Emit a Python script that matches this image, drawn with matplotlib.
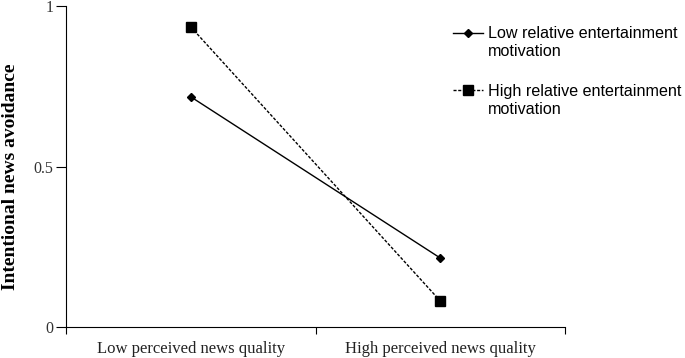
import matplotlib
matplotlib.use('Agg')
import matplotlib.pyplot as plt
from matplotlib.lines import Line2D

categories = ['Low perceived news quality', 'High perceived news quality']
low_motivation = [0.718, 0.215]
high_motivation = [0.936, 0.081]
series_labels = [['Low relative entertainment', 'motivation'],
                 ['High relative entertainment', 'motivation']]

fig = plt.figure(figsize=(6.85, 3.58), dpi=100)
ax = fig.add_axes([0.0964, 0.0866, 0.7286, 0.8954])

x = [0.5, 1.5]
l1, = ax.plot(x, low_motivation, color='black', lw=1, marker='D', ms=4.5)
l2, = ax.plot(x, high_motivation, color='black', lw=1, ls=(0, (2.2, 1.2)),
              marker='s', ms=6.5)

ax.set_xlim(0, 2)
ax.set_ylim(0, 1)
ax.set_xticks([0, 1, 2])
ax.set_xticklabels([])
ax.set_xticks(x, minor=True)
ax.set_xticklabels(categories, minor=True, fontsize=12,
                   family='Liberation Serif', color='#222222')
ax.tick_params(axis='x', which='minor', length=0, pad=10)
ax.tick_params(axis='x', which='major', length=5, direction='out')
ax.set_yticks([0, 0.5, 1])
ax.set_yticklabels(['0', '0.5', '1'], fontsize=11.5, family='Liberation Serif',
                   color='#333333')
ax.tick_params(axis='y', length=7, pad=2)
ax.spines['top'].set_visible(False)
ax.spines['right'].set_visible(False)
ax.set_ylabel('Intentional news avoidance', fontsize=14, fontweight='bold',
              family='Liberation Serif')
ax.yaxis.set_label_coords(-0.094, 0.47)

blank = Line2D([], [], color='none')
tops = [0.926, 0.765]
for line, lab, top in zip([l1, l2], series_labels, tops):
    leg = ax.legend([line, blank], lab, loc='upper left',
                    bbox_to_anchor=(0.661, top),
                    bbox_transform=fig.transFigure, frameon=False,
                    prop={'family': 'Liberation Sans', 'size': 11.6},
                    handlelength=1.9, handletextpad=0.3,
                    labelspacing=0.18, borderpad=0, borderaxespad=0)
    ax.legend_ = None
    ax.add_artist(leg)

fig.savefig('out.png', dpi=100)
